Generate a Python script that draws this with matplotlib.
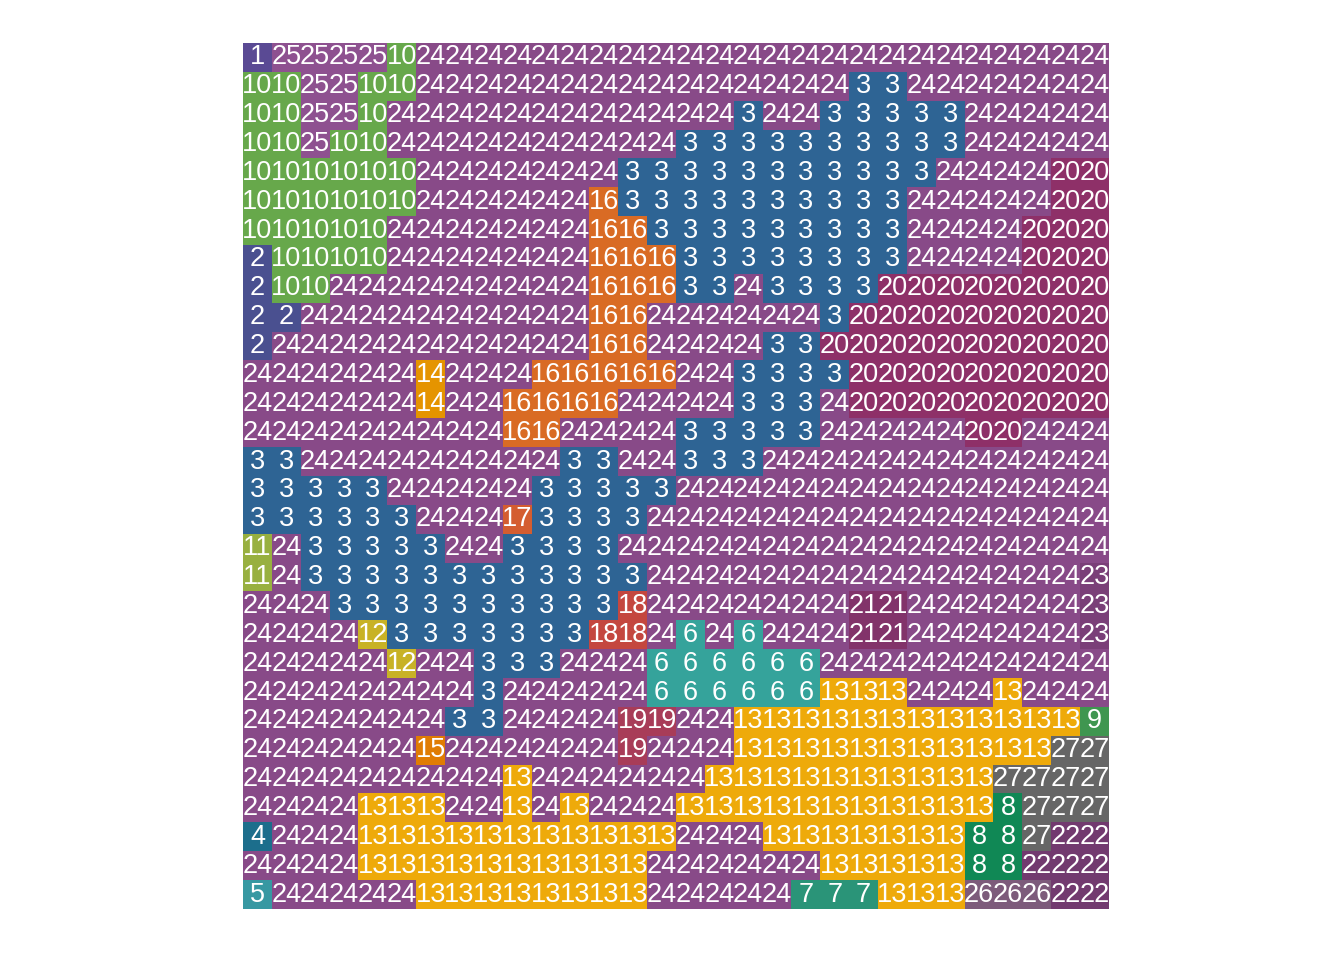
import numpy as np
import matplotlib
matplotlib.use("Agg")
from matplotlib import pyplot as plt
from matplotlib.colors import ListedColormap, BoundaryNorm

# cell labels, row by row from the top
rows = [
    "1 25 25 25 25 10 24 24 24 24 24 24 24 24 24 24 24 24 24 24 24 24 24 24 24 24 24 24 24 24",
    "10 10 25 25 10 10 24 24 24 24 24 24 24 24 24 24 24 24 24 24 24 3 3 24 24 24 24 24 24 24",
    "10 10 25 25 10 24 24 24 24 24 24 24 24 24 24 24 24 3 24 24 3 3 3 3 3 24 24 24 24 24",
    "10 10 25 10 10 24 24 24 24 24 24 24 24 24 24 3 3 3 3 3 3 3 3 3 3 24 24 24 24 24",
    "10 10 10 10 10 10 24 24 24 24 24 24 24 3 3 3 3 3 3 3 3 3 3 3 24 24 24 24 20 20",
    "10 10 10 10 10 10 24 24 24 24 24 24 16 3 3 3 3 3 3 3 3 3 3 24 24 24 24 24 20 20",
    "10 10 10 10 10 24 24 24 24 24 24 24 16 16 3 3 3 3 3 3 3 3 3 24 24 24 24 20 20 20",
    "2 10 10 10 10 24 24 24 24 24 24 24 16 16 16 3 3 3 3 3 3 3 3 24 24 24 24 20 20 20",
    "2 10 10 24 24 24 24 24 24 24 24 24 16 16 16 3 3 24 3 3 3 3 20 20 20 20 20 20 20 20",
    "2 2 24 24 24 24 24 24 24 24 24 24 16 16 24 24 24 24 24 24 3 20 20 20 20 20 20 20 20 20",
    "2 24 24 24 24 24 24 24 24 24 24 24 16 16 24 24 24 24 3 3 20 20 20 20 20 20 20 20 20 20",
    "24 24 24 24 24 24 14 24 24 24 16 16 16 16 16 24 24 3 3 3 3 20 20 20 20 20 20 20 20 20",
    "24 24 24 24 24 24 14 24 24 16 16 16 16 24 24 24 24 3 3 3 24 20 20 20 20 20 20 20 20 20",
    "24 24 24 24 24 24 24 24 24 16 16 24 24 24 24 3 3 3 3 3 24 24 24 24 24 20 20 24 24 24",
    "3 3 24 24 24 24 24 24 24 24 24 3 3 24 24 3 3 3 24 24 24 24 24 24 24 24 24 24 24 24",
    "3 3 3 3 3 24 24 24 24 24 3 3 3 3 3 24 24 24 24 24 24 24 24 24 24 24 24 24 24 24",
    "3 3 3 3 3 3 24 24 24 17 3 3 3 3 24 24 24 24 24 24 24 24 24 24 24 24 24 24 24 24",
    "11 24 3 3 3 3 3 24 24 3 3 3 3 24 24 24 24 24 24 24 24 24 24 24 24 24 24 24 24 24",
    "11 24 3 3 3 3 3 3 3 3 3 3 3 3 24 24 24 24 24 24 24 24 24 24 24 24 24 24 24 23",
    "24 24 24 3 3 3 3 3 3 3 3 3 3 18 24 24 24 24 24 24 24 21 21 24 24 24 24 24 24 23",
    "24 24 24 24 12 3 3 3 3 3 3 3 18 18 24 6 24 6 24 24 24 21 21 24 24 24 24 24 24 23",
    "24 24 24 24 24 12 24 24 3 3 3 24 24 24 6 6 6 6 6 6 24 24 24 24 24 24 24 24 24 24",
    "24 24 24 24 24 24 24 24 3 24 24 24 24 24 6 6 6 6 6 6 13 13 13 24 24 24 13 24 24 24",
    "24 24 24 24 24 24 24 3 3 24 24 24 24 19 19 24 24 13 13 13 13 13 13 13 13 13 13 13 13 9",
    "24 24 24 24 24 24 15 24 24 24 24 24 24 19 24 24 24 13 13 13 13 13 13 13 13 13 13 13 27 27",
    "24 24 24 24 24 24 24 24 24 13 24 24 24 24 24 24 13 13 13 13 13 13 13 13 13 13 27 27 27 27",
    "24 24 24 24 13 13 13 24 24 13 24 13 24 24 24 13 13 13 13 13 13 13 13 13 13 13 8 27 27 27",
    "4 24 24 24 13 13 13 13 13 13 13 13 13 13 13 24 24 24 13 13 13 13 13 13 13 8 8 27 22 22",
    "24 24 24 24 13 13 13 13 13 13 13 13 13 13 24 24 24 24 24 24 13 13 13 13 13 8 8 22 22 22",
    "5 24 24 24 24 24 13 13 13 13 13 13 13 13 24 24 24 24 24 7 7 7 13 13 13 26 26 26 22 22",
]

labels = [1, 2, 3, 4, 5, 6, 7, 8, 9, 10, 11, 12, 13, 14, 15, 16, 17, 18, 19, 20,
          21, 22, 23, 24, 25, 26, 27]
colors = ["#5a4a94", "#4a5090", "#2e6494", "#1c6e8c", "#3798a2", "#35a39b", "#2a9478",
          "#108855", "#3f9650", "#67a84b", "#98b040", "#c8b226", "#eeaa0a", "#e59400",
          "#e07c03", "#d96b24", "#d45d30", "#c4473f", "#a83c58", "#8e3068", "#82336a",
          "#723a6f", "#7a3f78", "#884a88", "#8e5190", "#7d5b7b", "#666666"]

grid = np.array([[int(v) for v in r.split()] for r in rows])
assert grid.shape == (30, 30), grid.shape

cmap = ListedColormap(colors)
norm = BoundaryNorm(np.array(labels + [labels[-1] + 1]) - 0.5, cmap.N)

fig = plt.figure(figsize=(13.44, 9.6), dpi=100)
ax = fig.add_axes([243 / 1344, 51 / 960, 866 / 1344, 866 / 960])
ax.imshow(grid, cmap=cmap, norm=norm, interpolation="nearest", aspect="auto")

for i in range(grid.shape[0]):
    for j in range(grid.shape[1]):
        ax.text(j, i, str(grid[i, j]), ha="center", va="center", color="white",
                fontsize=19.5, family=["Liberation Sans", "DejaVu Sans"])

ax.set_axis_off()
fig.savefig("out.png", dpi=100)
